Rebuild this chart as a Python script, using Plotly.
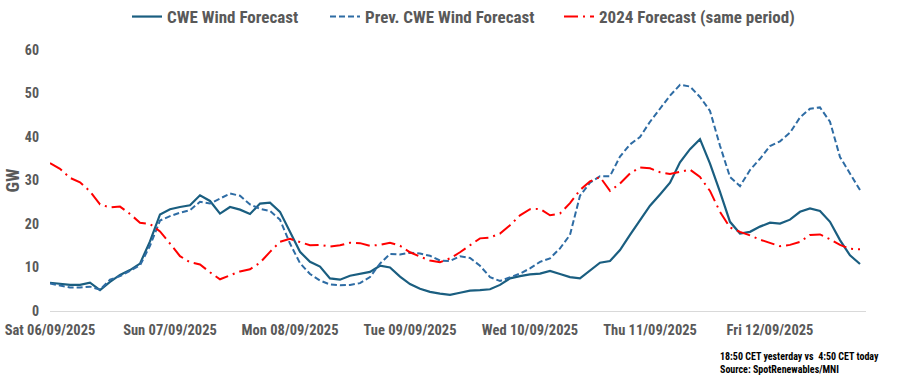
import pandas as pd
import plotly.graph_objects as go

# ---- data (values every 2 hours from Sat 06/09/2025 00:00 CET) ----
start_time = "2025-09-06 00:00"
step = "2h"

cwe_forecast = [
    6.5, 6.2, 6.0, 6.0, 6.5, 4.8, 6.7, 8.3, 9.4, 10.9,
    16.0, 22.2, 23.4, 23.9, 24.3, 26.6, 25.3, 22.4, 23.9, 23.3,
    22.3, 24.7, 24.9, 22.8, 18.2, 13.6, 11.3, 10.2, 7.5, 7.2,
    8.1, 8.5, 9.0, 10.4, 10.0, 7.9, 6.2, 5.1, 4.4, 4.0,
    3.7, 4.2, 4.7, 4.8, 5.0, 6.0, 7.5, 8.0, 8.4, 8.6,
    9.2, 8.5, 7.8, 7.5, 9.4, 11.1, 11.5, 14.0, 17.5, 20.9,
    24.2, 26.8, 29.5, 34.2, 37.2, 39.5, 33.9, 27.4, 20.5, 17.8,
    18.2, 19.4, 20.3, 20.1, 21.0, 22.8, 23.6, 23.0, 20.5, 16.3,
    12.8, 10.8,
]

prev_cwe_forecast = [
    6.3, 5.8, 5.4, 5.4, 5.6, 4.9, 7.2, 8.0, 9.2, 10.5,
    15.0, 20.8, 21.8, 22.6, 23.2, 25.1, 24.7, 25.9, 27.0, 26.5,
    24.5, 23.5, 23.0, 21.0, 15.5, 11.0, 8.5, 7.0, 6.1, 5.9,
    6.0, 6.4, 7.8, 10.9, 13.1, 13.0, 13.4, 13.2, 12.7, 11.6,
    11.5, 12.6, 12.2, 10.4, 7.8, 6.9, 7.7, 8.6, 9.8, 11.3,
    12.1, 14.4, 17.5, 26.5, 29.5, 31.0, 31.0, 35.5, 38.3, 40.0,
    43.5, 46.5, 49.5, 52.0, 51.6, 49.2, 46.0, 38.0, 30.8, 28.7,
    32.4, 35.0, 37.9, 39.0, 41.0, 44.5, 46.5, 46.8, 43.5, 35.4,
    31.5, 27.8,
]

forecast_2024 = [
    34.0, 32.7, 30.6, 29.6, 27.5, 24.5, 23.8, 24.0, 22.3, 20.3,
    20.0, 18.3, 15.5, 12.6, 11.2, 10.7, 8.9, 7.3, 8.2, 9.1,
    9.6, 11.1, 13.6, 15.9, 16.6, 15.9, 15.1, 15.2, 14.8, 15.1,
    15.7, 15.6, 15.0, 15.2, 15.7, 15.0, 13.5, 12.5, 11.6, 11.2,
    12.1, 13.5, 15.2, 16.7, 16.9, 17.8, 19.7, 22.0, 23.4, 23.5,
    22.0, 22.4, 24.8, 27.8, 29.8, 30.8, 27.6, 29.3, 31.6, 33.0,
    32.8, 31.9, 31.5, 32.0, 32.5, 30.8, 27.6, 22.8, 19.2, 18.2,
    17.4, 16.4, 15.6, 14.9, 15.2, 15.9, 17.5, 17.6, 16.5, 15.2,
    14.3, 14.2,
]

day_ticks = ["2025-09-06", "2025-09-07", "2025-09-08", "2025-09-09",
             "2025-09-10", "2025-09-11", "2025-09-12"]
day_labels = ["Sat 06/09/2025", "Sun 07/09/2025", "Mon 08/09/2025",
              "Tue 09/09/2025", "Wed 10/09/2025", "Thu 11/09/2025",
              "Fri 12/09/2025"]
y_ticks = [0, 10, 20, 30, 40, 50, 60]

series_names = ["CWE Wind Forecast", "Prev. CWE Wind Forecast",
                "2024 Forecast (same period)"]
note_lines = ["18:50 CET yesterday vs  4:50 CET today",
              "Source: SpotRenewables/MNI"]

# ---- figure ----
times = pd.date_range(start_time, periods=len(cwe_forecast), freq=step)

FONT = "Liberation Sans Narrow, Arial Narrow, Roboto Condensed, Liberation Sans, sans-serif"
GREY = "#595959"

fig = go.Figure()
fig.add_trace(go.Scatter(
    x=times, y=cwe_forecast, name=series_names[0], mode="lines",
    legend="legend", line=dict(color="#1A5E80", width=2.2)))
fig.add_trace(go.Scatter(
    x=times, y=prev_cwe_forecast, name=series_names[1], mode="lines",
    legend="legend2", line=dict(color="#2E6CA4", width=2, dash="6px,3px")))
fig.add_trace(go.Scatter(
    x=times, y=forecast_2024, name=series_names[2], mode="lines",
    legend="legend3",
    line=dict(color="#FF0000", width=2, dash="14px,5px,2px,5px")))

legend_font = dict(family=FONT, size=17, color=GREY, weight="bold")


def legend_at(px):
    return dict(orientation="h", xref="container", x=px / 907,
                xanchor="left", yref="container", y=1 - 17 / 382,
                yanchor="middle", font=legend_font, itemwidth=30,
                bgcolor="rgba(0,0,0,0)")


fig.update_layout(
    width=907, height=382,
    margin=dict(l=50, r=41, t=50, b=71, autoexpand=False),
    paper_bgcolor="white", plot_bgcolor="white",
    font=dict(family=FONT, color=GREY, size=13),
    showlegend=True, hovermode=False,
    legend=legend_at(127),
    legend2=legend_at(325),
    legend3=legend_at(559),
)

fig.update_xaxes(
    range=[pd.Timestamp("2025-09-06 00:00"), pd.Timestamp("2025-09-12 19:12")],
    tickmode="array", tickvals=day_ticks, ticktext=day_labels,
    showgrid=False, zeroline=False, showline=True, linecolor="#D9D9D9",
    linewidth=1, ticks="", ticklabelstandoff=6, automargin=False,
    tickfont=dict(family=FONT, size=14.5, color=GREY, weight="bold"),
)
fig.update_yaxes(
    range=[0, 60], tickmode="array", tickvals=y_ticks,
    showgrid=False, zeroline=False, showline=False, ticks="",
    ticklabelstandoff=10, automargin=False,
    tickfont=dict(family=FONT, size=14, color=GREY, weight="bold"),
    title=dict(text="GW", standoff=0,
               font=dict(family=FONT, size=18, color=GREY, weight="bold")),
)

for i, line in enumerate(note_lines):
    fig.add_annotation(
        text=line, xref="paper", yref="paper",
        x=(718 - 50) / 816, y=(311 - 356 - 13.5 * i) / 261,
        xanchor="left", yanchor="middle", showarrow=False,
        font=dict(family=FONT, size=10, color="#000000", weight="bold"))

fig.write_html("out.html", config={"displayModeBar": False},
               post_script="document.body.style.margin='0';")
